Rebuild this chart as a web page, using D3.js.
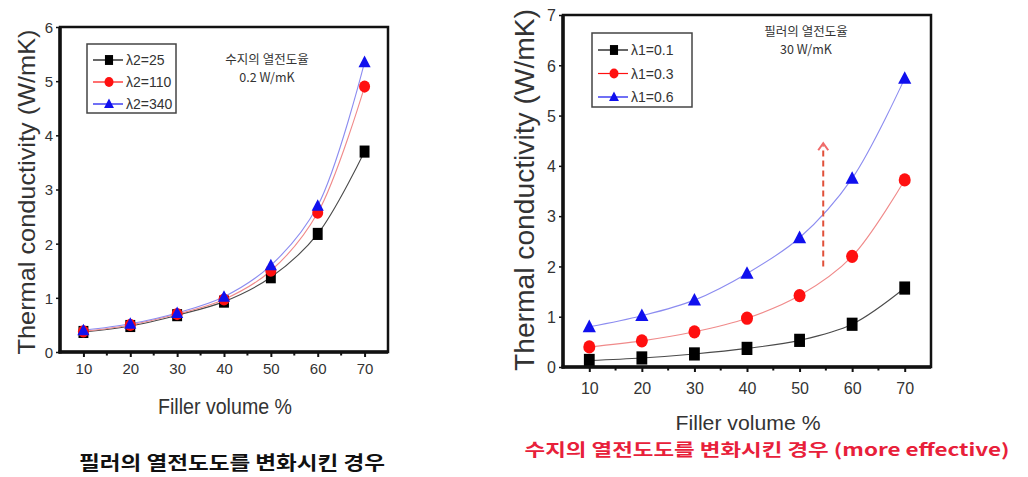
<!DOCTYPE html>
<html>
<head>
<meta charset="utf-8">
<script src="https://cdn.jsdelivr.net/npm/d3@7/dist/d3.min.js"></script>
<style>
  html, body { margin: 0; padding: 0; background: #fff; }
  svg { display: block; }
  .tick-label { font-family: "Liberation Sans Narrow", "Liberation Sans", Arial, sans-serif; fill: #333; }
  .axis-title { font-family: "Liberation Sans", Arial, sans-serif; fill: #333; }
  .kr { font-family: "Noto Sans CJK KR", sans-serif; }
</style>
</head>
<body>
<svg id="chart" width="1028" height="477"></svg>
<script>
// Filler volume fractions (%)
const fillerVolume = [10, 20, 30, 40, 50, 60, 70];
const xTicks = [10, 20, 30, 40, 50, 60, 70];

// Panel A: varying filler conductivity (resin 0.2 W/mK)
const seriesA_names = ["λ2=25", "λ2=110", "λ2=340"];
const seriesA_lambda25  = [0.37, 0.48, 0.68, 0.93, 1.38, 2.18, 3.70];
const seriesA_lambda110 = [0.38, 0.50, 0.70, 0.97, 1.50, 2.57, 4.90];
const seriesA_lambda340 = [0.40, 0.52, 0.72, 1.02, 1.60, 2.70, 5.35];
const yTicksA = [0, 1, 2, 3, 4, 5, 6];

// Panel B: varying resin conductivity (filler 30 W/mK)
const seriesB_names = ["λ1=0.1", "λ1=0.3", "λ1=0.6"];
const seriesB_lambda01 = [0.13, 0.18, 0.26, 0.37, 0.53, 0.85, 1.57];
const seriesB_lambda03 = [0.40, 0.52, 0.70, 0.97, 1.42, 2.20, 3.72];
const seriesB_lambda06 = [0.80, 1.02, 1.33, 1.86, 2.57, 3.75, 5.74];
const yTicksB = [0, 1, 2, 3, 4, 5, 6, 7];

// Trend arrow in panel B (x value, from y, to y)
const arrowB = { x: 54.5, y0: 2.0, y1: 4.45 };

const svg = d3.select("#chart");

const styles = [
  { shape: "square",   fill: "#000000", line: "#4a4a4a" },
  { shape: "circle",   fill: "#ff1010", line: "#f08a8a" },
  { shape: "triangle", fill: "#1010ee", line: "#8c8cf0" }
];

function drawMarker(g, shape, x, y, color, s) {
  if (shape === "square") {
    g.append("rect").attr("x", x - s * 0.45).attr("y", y - s * 0.55)
      .attr("width", s * 0.9).attr("height", s * 1.1).attr("fill", color);
  } else if (shape === "circle") {
    g.append("ellipse").attr("cx", x).attr("cy", y)
      .attr("rx", s * 0.5).attr("ry", s * 0.55).attr("fill", color);
  } else {
    const h = s * 1.0, w = s * 1.1;
    g.append("path")
      .attr("d", `M${x},${y - h * 0.6}L${x + w / 2},${y + h * 0.45}L${x - w / 2},${y + h * 0.45}Z`)
      .attr("fill", color);
  }
}

function drawPanel(cfg) {
  const g = svg.append("g");
  const x = d3.scaleLinear().domain([5, 75]).range([cfg.left, cfg.right]);
  const y = d3.scaleLinear().domain([0, cfg.ymax]).range([cfg.bottom, cfg.top]);

  // series lines and markers
  const line = d3.line().x((d, i) => x(fillerVolume[i])).y(d => y(d)).curve(d3.curveCatmullRom);
  cfg.series.forEach((vals, k) => {
    g.append("path").attr("d", line(vals)).attr("fill", "none")
      .attr("stroke", styles[k].line).attr("stroke-width", 1.1);
  });
  cfg.series.forEach((vals, k) => {
    vals.forEach((v, i) => drawMarker(g, styles[k].shape, x(fillerVolume[i]), y(v), styles[k].fill, cfg.marker));
  });

  // frame
  g.append("rect").attr("x", cfg.left).attr("y", cfg.top)
    .attr("width", cfg.right - cfg.left).attr("height", cfg.bottom - cfg.top)
    .attr("fill", "none").attr("stroke", "#111").attr("stroke-width", 2.5);
  g.append("line").attr("x1", cfg.left).attr("x2", cfg.left).attr("y1", cfg.top).attr("y2", cfg.bottom + 1.5)
    .attr("stroke", "#111").attr("stroke-width", 3.5);
  g.append("line").attr("x1", cfg.left - 1.5).attr("x2", cfg.right).attr("y1", cfg.bottom).attr("y2", cfg.bottom)
    .attr("stroke", "#111").attr("stroke-width", 3.5);

  // x axis
  const xAxis = d3.axisBottom(x).tickValues(xTicks).tickSize(5).tickSizeOuter(0).tickFormat(d3.format("d"));
  const xg = g.append("g").attr("transform", `translate(0,${cfg.bottom})`).call(xAxis);
  xg.select(".domain").remove();
  xg.selectAll(".tick line").attr("stroke", "#111").attr("stroke-width", 2);
  xg.selectAll(".tick text").attr("class", "tick-label").attr("dy", 0).attr("y", cfg.xTickY)
    .attr("font-size", cfg.tickFont).attr("fill", "#333");
  const minor = d3.range(15, 75, 10);
  g.selectAll(null).data(minor).join("line")
    .attr("x1", d => x(d)).attr("x2", d => x(d)).attr("y1", cfg.bottom).attr("y2", cfg.bottom + 3.5)
    .attr("stroke", "#111").attr("stroke-width", 2);

  // y axis
  const yAxis = d3.axisLeft(y).tickValues(cfg.yTicks).tickSize(4).tickSizeOuter(0).tickFormat(d3.format("d"));
  const yg = g.append("g").attr("transform", `translate(${cfg.left},0)`).call(yAxis);
  yg.select(".domain").remove();
  yg.selectAll(".tick line").attr("stroke", "#111").attr("stroke-width", 1.5);
  yg.selectAll(".tick text").attr("class", "tick-label").attr("x", -7).attr("dy", "0.36em")
    .attr("font-size", cfg.tickFont).attr("fill", "#333");

  // axis titles
  g.append("text").attr("class", "axis-title")
    .attr("x", cfg.xTitle[0]).attr("y", cfg.xTitle[1]).attr("text-anchor", "middle")
    .attr("font-size", cfg.titleFont).attr("textLength", cfg.xTitleLen).attr("lengthAdjust", "spacingAndGlyphs")
    .text("Filler volume %");
  g.append("text").attr("class", "axis-title")
    .attr("transform", `translate(${cfg.yTitle[0]},${cfg.yTitle[1]}) rotate(-90)`)
    .attr("text-anchor", "middle")
    .attr("font-size", cfg.yTitleFont).attr("textLength", cfg.yTitleLen).attr("lengthAdjust", "spacingAndGlyphs")
    .text("Thermal conductivity (W/mK)");

  // legend
  const L = cfg.legend;
  g.append("rect").attr("x", L.x).attr("y", L.y).attr("width", L.w).attr("height", L.h)
    .attr("fill", "#fff").attr("stroke", "#444").attr("stroke-width", 1.5);
  cfg.names.forEach((name, k) => {
    const cy = L.y + L.first + k * L.step;
    g.append("line").attr("x1", L.x + 6).attr("x2", L.x + 36).attr("y1", cy).attr("y2", cy)
      .attr("stroke", styles[k].fill).attr("stroke-width", 1.2);
    drawMarker(g, styles[k].shape, L.x + 22, cy, styles[k].fill, 9);
    g.append("text").attr("class", "tick-label").attr("x", L.x + 39).attr("y", cy).attr("dy", "0.36em")
      .attr("font-size", 14).attr("fill", "#444").text(name);
  });

  // note
  cfg.note.forEach((t, i) => {
    g.append("text").attr("class", "kr").attr("x", cfg.noteXY[0]).attr("y", cfg.noteXY[1] + i * 18)
      .attr("text-anchor", "middle").attr("font-size", 12.5).attr("fill", "#333").text(t);
  });

  return { g, x, y };
}

// Panel A
drawPanel({
  left: 60, right: 388, top: 27, bottom: 352, ymax: 6, yTicks: yTicksA,
  series: [seriesA_lambda25, seriesA_lambda110, seriesA_lambda340], names: seriesA_names,
  marker: 11, tickFont: 15, xTickY: 22, titleFont: 22, yTitleFont: 24,
  xTitle: [225, 414], xTitleLen: 134, yTitle: [35, 192], yTitleLen: 325,
  legend: { x: 87, y: 44, w: 89, h: 69, first: 16, step: 22 },
  note: ["수지의  열전도율", "0.2  W/mK"], noteXY: [267, 64]
});

// Panel B
const B = drawPanel({
  left: 563, right: 931, top: 15, bottom: 367, ymax: 7, yTicks: yTicksB,
  series: [seriesB_lambda01, seriesB_lambda03, seriesB_lambda06], names: seriesB_names,
  marker: 12, tickFont: 16, xTickY: 27, titleFont: 21, yTitleFont: 27,
  xTitle: [748, 430], xTitleLen: 145, yTitle: [534, 190], yTitleLen: 362,
  legend: { x: 592, y: 33, w: 100, h: 74, first: 17, step: 23.5 },
  note: ["필러의  열전도율", "30  W/mK"], noteXY: [806, 36]
});

// dashed trend arrow
const ax = B.x(arrowB.x);
B.g.append("line").attr("x1", ax).attr("x2", ax).attr("y1", B.y(arrowB.y0)).attr("y2", B.y(arrowB.y1) + 2)
  .attr("stroke", "#e0503a").attr("stroke-width", 2).attr("stroke-dasharray", "6,4");
B.g.append("path")
  .attr("d", `M${ax - 5},${B.y(arrowB.y1) + 7}L${ax},${B.y(arrowB.y1)}L${ax + 5},${B.y(arrowB.y1) + 7}`)
  .attr("fill", "none").attr("stroke", "#f06a6a").attr("stroke-width", 2);

// captions
svg.append("text").attr("class", "kr").attr("x", 232).attr("y", 470).attr("text-anchor", "middle")
  .attr("font-size", 19).attr("font-weight", "bold").attr("fill", "#111")
  .attr("textLength", 306).attr("lengthAdjust", "spacingAndGlyphs")
  .text("필러의  열전도도를  변화시킨  경우");
svg.append("text").attr("class", "kr").attr("x", 767).attr("y", 456).attr("text-anchor", "middle")
  .attr("font-size", 17).attr("font-weight", "bold").attr("fill", "#e8203a")
  .attr("textLength", 485).attr("lengthAdjust", "spacingAndGlyphs")
  .text("수지의  열전도도를  변화시킨  경우  (more  effective)");
</script>
</body>
</html>
